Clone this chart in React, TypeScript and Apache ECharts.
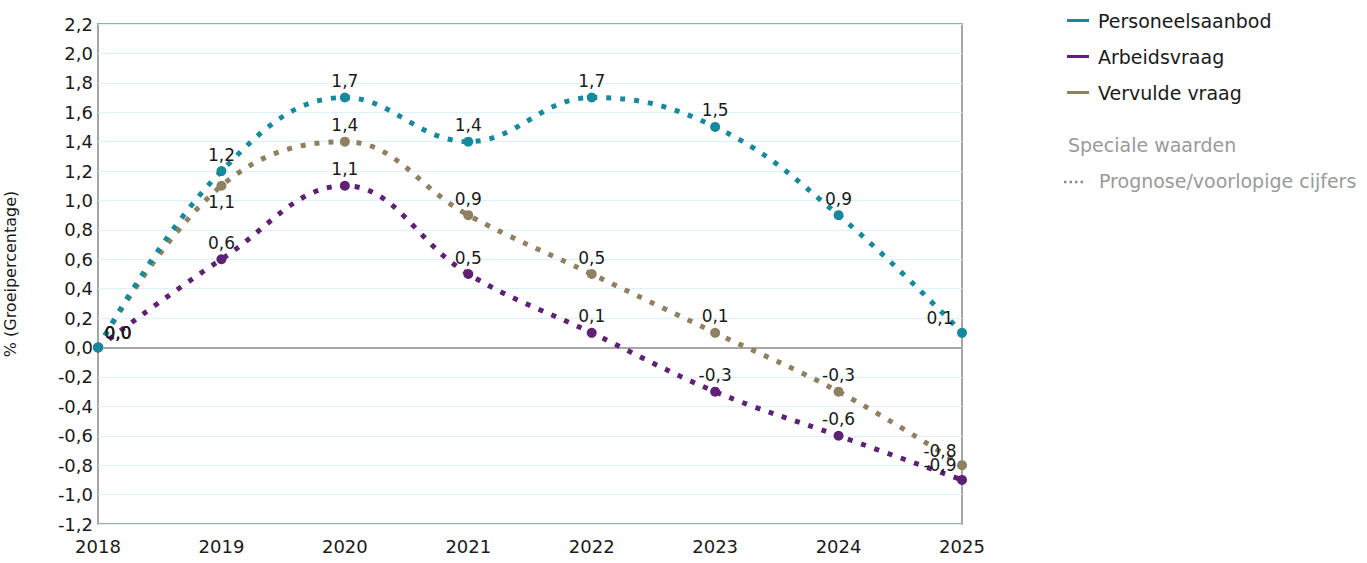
import React, { useEffect, useRef } from "react";
import * as echarts from "echarts";

const years = ["2018", "2019", "2020", "2021", "2022", "2023", "2024", "2025"];
const personeelsaanbod = [0.0, 1.2, 1.7, 1.4, 1.7, 1.5, 0.9, 0.1];
const arbeidsvraag = [0.0, 0.6, 1.1, 0.5, 0.1, -0.3, -0.6, -0.9];
const vervuldeVraag = [0.0, 1.1, 1.4, 0.9, 0.5, 0.1, -0.3, -0.8];
const seriesNames = ["Personeelsaanbod", "Arbeidsvraag", "Vervulde vraag"];
const colors = ["#168a9c", "#5e2174", "#8e8060"];

const FONT = "DejaVu Sans";

function fmt(v: number) {
  return v.toFixed(1).replace(".", ",");
}

function buildData(values: number[], seriesIdx: number) {
  return values.map((v, i) => {
    let position: any = "top";
    let offset = [0, 0];
    if (i === 0) offset = [20, 2];
    if (i === values.length - 1) offset = [-22, 2];
    if (seriesIdx === 2 && i === 1) position = "bottom";
    return { value: v, label: { position, offset } };
  });
}

export default function App() {
  const ref = useRef<HTMLDivElement>(null);
  useEffect(() => {
    if (!ref.current) return;
    const chart = echarts.init(ref.current, null, { renderer: "svg" });
    const allSeries = [personeelsaanbod, arbeidsvraag, vervuldeVraag].map((vals, idx) => ({
      name: seriesNames[idx],
      type: "line",
      smooth: 0.4,
      data: buildData(vals, idx),
      symbol: "circle",
      symbolSize: 10,
      itemStyle: { color: colors[idx] },
      lineStyle: { color: colors[idx], width: 5, type: [5, 9] },
      label: {
        show: true,
        formatter: (p: any) => fmt(p.value),
        color: "#1a1a1a",
        fontFamily: FONT,
        fontSize: 17,
        distance: 3,
      },
      z: 10 - idx,
    }));
    chart.setOption({
      animation: false,
      textStyle: { fontFamily: FONT },
      grid: {
        left: 98,
        right: 405,
        top: 24,
        bottom: 39,
        outerBoundsMode: "none",
        containLabel: false,
        show: true,
        borderColor: "#a6a6a6",
        borderWidth: 2,
        backgroundColor: "transparent",
      },
      legend: {
        data: seriesNames,
        orient: "vertical",
        left: 1062,
        top: 6,
        icon: "rect",
        itemWidth: 22,
        itemHeight: 3,
        itemGap: 17,
        textStyle: { fontFamily: FONT, fontSize: 19, color: "#1a1a1a", padding: [0, 0, 0, 4] },
      },
      xAxis: {
        type: "category",
        data: years,
        boundaryGap: false,
        axisLine: { onZero: true, lineStyle: { color: "#a6a6a6", width: 2 } },
        axisTick: { show: false },
        axisLabel: { color: "#1a1a1a", fontFamily: FONT, fontSize: 18, margin: 13 },
        splitLine: { show: false },
      },
      yAxis: {
        type: "value",
        min: -1.2,
        max: 2.2,
        interval: 0.2,
        name: "% (Groeipercentage)",
        nameLocation: "middle",
        nameGap: 80,
        nameTextStyle: { color: "#1a1a1a", fontFamily: FONT, fontSize: 16 },
        axisLine: { show: false },
        axisTick: { show: false },
        axisLabel: {
          color: "#1a1a1a",
          fontFamily: FONT,
          fontSize: 18,
          margin: 5,
          formatter: (v: number) => fmt(v),
        },
        splitLine: { show: true, lineStyle: { color: "#dcf2fb", width: 1 } },
      },
      graphic: [
        {
          type: "text",
          left: 1068,
          top: 135,
          style: { text: "Speciale waarden", fill: "#9a9a9a", fontFamily: FONT, fontSize: 19 },
        },
        {
          type: "line",
          shape: { x1: 1064, y1: 182, x2: 1086, y2: 182 },
          style: { stroke: "#8a8a8a", lineWidth: 2.5, lineDash: [2.5, 3] },
        },
        {
          type: "text",
          left: 1099,
          top: 171,
          style: { text: "Prognose/voorlopige cijfers", fill: "#9a9a9a", fontFamily: FONT, fontSize: 19 },
        },
      ],
      series: allSeries,
    });
    return () => chart.dispose();
  }, []);
  return <div ref={ref} style={{ width: 1367, height: 563, position: "absolute", left: 0, top: 0 }} />;
}
